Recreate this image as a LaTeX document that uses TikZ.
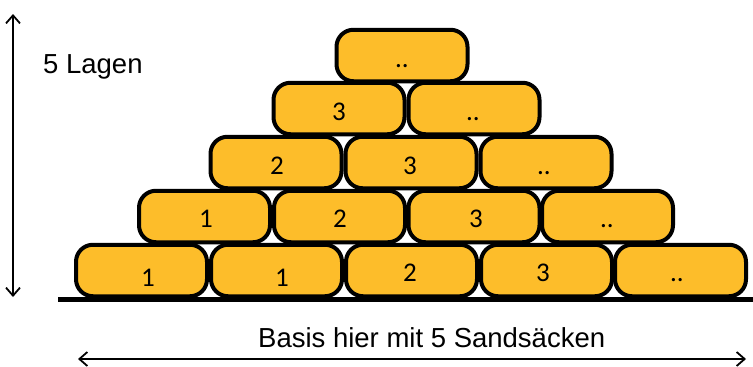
\documentclass[tikz,border=0pt]{standalone}
\usepackage{fontspec}
\setmainfont{Liberation Sans}
\newfontfamily\boxfont{Carlito}
\usetikzlibrary{arrows.meta}
\definecolor{sandbag}{RGB}{253,189,42}
\tikzset{
  sack/.style={draw=black, fill=sandbag, line width=4pt, rounded corners=17pt,
    minimum width=131pt, minimum height=51.5pt, inner sep=0pt, outer sep=0pt},
  sacklabel/.style={font=\boxfont\fontsize{27}{27}\selectfont, anchor=base, inner sep=0pt},
  dimarrow/.style={line width=1.8pt, {Straight Barb[length=8pt,width=14pt]}-{Straight Barb[length=8pt,width=14pt]}},
  plaintext/.style={font=\fontsize{27.5}{27.5}\selectfont, inner sep=0pt, anchor=base west}
}
\begin{document}
\begin{tikzpicture}[x=1pt,y=-1pt]
\useasboundingbox (0,0) rectangle (753,367);
% row 1
\node[sack] (r1a) at (141.5,270.5) {};
\node[sack] (r1b) at (276.5,270.5) {};
\node[sack] (r1c) at (411.5,270.5) {};
\node[sack] (r1d) at (546.5,270.5) {};
\node[sack] (r1e) at (680.5,270.5) {};
% row 2
\node[sack] (r2a) at (204.5,216.5) {};
\node[sack] (r2b) at (339.5,216.5) {};
\node[sack] (r2c) at (474,216.5) {};
\node[sack] (r2d) at (607.5,216.5) {};
% row 3
\node[sack] (r3a) at (276,162.5) {};
\node[sack] (r3b) at (411,162.5) {};
\node[sack] (r3c) at (546,162.5) {};
% row 4
\node[sack] (r4a) at (339,108.5) {};
\node[sack] (r4b) at (474,108.5) {};
% row 5
\node[sack] (r5a) at (402,55.5) {};
% labels
\node[sacklabel] (l1a) at (148,286) {1};
\node[sacklabel] (l1b) at (282,286) {1};
\node[sacklabel] (l1c) at (410,281) {2};
\node[sacklabel] (l1d) at (543,281) {3};
\node[sacklabel] (l1e) at (677,281) {..};
\node[sacklabel] (l2a) at (206,227) {1};
\node[sacklabel] (l2b) at (340,227) {2};
\node[sacklabel] (l2c) at (476,227) {3};
\node[sacklabel] (l2d) at (607,227) {..};
\node[sacklabel] (l3a) at (277,174) {2};
\node[sacklabel] (l3b) at (410,174) {3};
\node[sacklabel] (l3c) at (544,174) {..};
\node[sacklabel] (l4a) at (339,120) {3};
\node[sacklabel] (l4b) at (473,120) {..};
\node[sacklabel] (l5a) at (402,67) {..};
% ground
\coordinate (g1) at (58,299.5);
\coordinate (g2) at (753,299.5);
\draw[line width=5pt] (g1) -- (g2);
% height arrow
\coordinate (v1) at (13,297);
\coordinate (v2) at (13,14);
\draw[dimarrow] (v1) -- (v2);
\node[plaintext] (lagen) at (43,73) {5 Lagen};
% base arrow
\coordinate (h1) at (78,359);
\coordinate (h2) at (746,359);
\draw[dimarrow] (h1) -- (h2);
\node[plaintext] (basis) at (258,347) {Basis hier mit 5 Sandsäcken};
\end{tikzpicture}
\end{document}
